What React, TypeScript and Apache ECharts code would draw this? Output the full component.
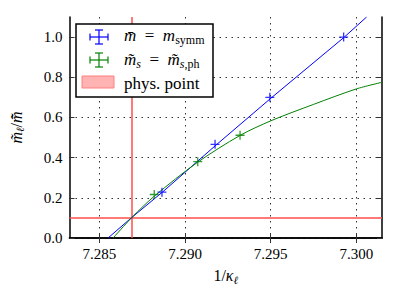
import React, { useEffect, useRef } from 'react';
import * as echarts from 'echarts';

// axis ticks
const xTicks = [7.285, 7.29, 7.295, 7.3];
const yTicks = [0, 0.2, 0.4, 0.6, 0.8, 1.0];
const xMin = 7.28325;
const xMax = 7.3015;
const yMin = 0;
const yMax = 1.1;

// data points (m̄ = m_symm)
const blueX = [7.28865, 7.29175, 7.29495, 7.29926];
const blueY = [0.228, 0.4665, 0.7, 1.0];
// data points (m̃_s = m̃_s,ph)
const greenX = [7.2882, 7.29074, 7.29321];
const greenY = [0.2165, 0.38, 0.5115];

// fit curves
const blueFitX = [7.2855, 7.2869, 7.2887, 7.2918, 7.295, 7.2993, 7.3006];
const blueFitY = [0.0, 0.103, 0.23, 0.462, 0.695, 1.0, 1.1];
const greenFitX = [7.2858, 7.2869, 7.2882, 7.2907, 7.2932, 7.295, 7.2975, 7.3, 7.3015];
const greenFitY = [0.0, 0.103, 0.208, 0.375, 0.51, 0.583, 0.665, 0.742, 0.775];

// physical point
const physX = 7.2869;
const physY = 0.103;

const FONT = 'Liberation Serif';
const BLUE = '#0000ff';
const GREEN = '#008000';
const RED = '#ff4d4d';
const PLUS = 'path://M0,5L10,5M5,0L5,10';

const zip = (xs: number[], ys: number[]) => xs.map((x, i) => [x, ys[i]]);

function errIcon(cx: number, cy: number, color: string) {
  const s = { stroke: color, lineWidth: 1.2 };
  return [
    { type: 'line', shape: { x1: cx - 9, y1: cy, x2: cx + 9, y2: cy }, style: s },
    { type: 'line', shape: { x1: cx, y1: cy - 7, x2: cx, y2: cy + 7 }, style: s },
    { type: 'line', shape: { x1: cx - 9, y1: cy - 3.5, x2: cx - 9, y2: cy + 3.5 }, style: s },
    { type: 'line', shape: { x1: cx + 9, y1: cy - 3.5, x2: cx + 9, y2: cy + 3.5 }, style: s },
    { type: 'line', shape: { x1: cx - 4, y1: cy - 7, x2: cx + 4, y2: cy - 7 }, style: s },
    { type: 'line', shape: { x1: cx - 4, y1: cy + 7, x2: cx + 4, y2: cy + 7 }, style: s },
  ];
}

const mkRich = (big: number, small: number) => ({
  i: { fontFamily: FONT, fontSize: big, fontStyle: 'italic', color: '#000', lineHeight: big + 3, verticalAlign: 'middle' },
  r: { fontFamily: FONT, fontSize: big, color: '#000', lineHeight: big + 3, verticalAlign: 'middle' },
  si: { fontFamily: FONT, fontSize: small, fontStyle: 'italic', color: '#000', lineHeight: small + 1, verticalAlign: 'bottom' },
  sr: { fontFamily: FONT, fontSize: small, color: '#000', lineHeight: small + 1, verticalAlign: 'bottom' },
});
const richAxis = mkRich(16, 11);
const richLegend = mkRich(17, 12);
const EQ = '\u2002=\u2002';

export default function App() {
  const ref = useRef<HTMLDivElement>(null);
  useEffect(() => {
    const chart = echarts.init(ref.current!, null, { renderer: 'svg' });
    const axisLine = { show: true, lineStyle: { color: '#000', width: 1.5 } };
    const tick = (vals: number[]) => ({
      show: true, inside: true, length: 5, customValues: vals,
      lineStyle: { color: '#333', width: 1 },
    });
    const split = { show: true, lineStyle: { color: '#333', type: [1.5, 4.5], width: 1 } };
    const option: any = {
      animation: false,
      textStyle: { fontFamily: FONT },
      grid: { left: 69, right: 17, top: 17, bottom: 61, containLabel: false },
      xAxis: [
        {
          type: 'value', min: xMin, max: xMax, position: 'bottom',
          axisLine, axisTick: tick(xTicks), splitLine: split,
          axisLabel: {
            customValues: xTicks, margin: 8, fontFamily: FONT, fontSize: 15, color: '#000',
            formatter: (v: number) => v.toFixed(3),
          },
          name: '{r|1/}{i|κ}{si|ℓ}', nameLocation: 'middle', nameGap: 28,
          nameTextStyle: { rich: richAxis, fontFamily: FONT },
        },
        {
          type: 'value', min: xMin, max: xMax, position: 'top',
          axisLine, axisTick: tick(xTicks), splitLine: { show: false },
          axisLabel: { show: false },
        },
      ],
      yAxis: [
        {
          type: 'value', min: yMin, max: yMax, position: 'left',
          axisLine, axisTick: tick(yTicks), splitLine: split,
          axisLabel: {
            customValues: yTicks, margin: 7, fontFamily: FONT, fontSize: 15, color: '#000',
            formatter: (v: number) => v.toFixed(1),
          },
          name: '{i|m̃}{si|ℓ}{r|/}{i|m̄̃}', nameLocation: 'middle', nameGap: 44, nameRotate: 90,
          nameTextStyle: { rich: richAxis, fontFamily: FONT },
        },
        {
          type: 'value', min: yMin, max: yMax, position: 'right',
          axisLine, axisTick: tick(yTicks), splitLine: { show: false },
          axisLabel: { show: false },
        },
      ],
      series: [
        {
          type: 'line', data: zip(blueFitX, blueFitY), showSymbol: false, symbol: 'none',
          lineStyle: { color: BLUE, width: 1 }, z: 3, clip: true,
          markLine: {
            silent: true, symbol: 'none', label: { show: false }, z: 1, precision: 6,
            lineStyle: { color: RED, width: 1.5, type: 'solid' },
            data: [{ xAxis: physX }, { yAxis: physY }],
          },
        },
        {
          type: 'line', data: zip(greenFitX, greenFitY), showSymbol: false, symbol: 'none',
          smooth: 0.3, lineStyle: { color: GREEN, width: 1 }, z: 3, clip: true,
        },
        {
          type: 'scatter', data: zip(blueX, blueY), symbol: PLUS, symbolSize: 9, z: 4,
          itemStyle: { color: 'none', borderColor: BLUE, borderWidth: 1.3 },
        },
        {
          type: 'scatter', data: zip(greenX, greenY), symbol: PLUS, symbolSize: 9, z: 4,
          itemStyle: { color: 'none', borderColor: GREEN, borderWidth: 1.3 },
        },
      ],
      graphic: [
        {
          type: 'rect', shape: { x: 76, y: 24, width: 137, height: 73 }, z: 10,
          style: { fill: '#fff', stroke: '#000', lineWidth: 1.5 },
        },
        ...errIcon(99, 37, BLUE).map((e) => ({ ...e, z: 11 })),
        ...errIcon(99, 60, GREEN).map((e) => ({ ...e, z: 11 })),
        {
          type: 'rect', shape: { x: 82, y: 76, width: 32, height: 12 }, z: 11,
          style: { fill: '#ffb3b3', stroke: '#ff8080', lineWidth: 1 },
        },
        {
          type: 'text', left: 124, top: 27, z: 11,
          style: { text: '{i|m̄}{r|' + EQ + '}{i|m}{sr|symm}', rich: richLegend, fontFamily: FONT },
        },
        {
          type: 'text', left: 124, top: 51, z: 11,
          style: { text: '{i|m̃}{si|s}{r|' + EQ + '}{i|m̃}{si|s}{sr|,ph}', rich: richLegend, fontFamily: FONT },
        },
        {
          type: 'text', left: 124, top: 75, z: 11,
          style: { text: 'phys. point', fontFamily: FONT, fontSize: 17, fill: '#000' },
        },
      ],
    };
    chart.setOption(option);
    return () => chart.dispose();
  }, []);
  return <div ref={ref} style={{ position: 'absolute', left: 0, top: 0, width: 399, height: 299 }} />;
}
